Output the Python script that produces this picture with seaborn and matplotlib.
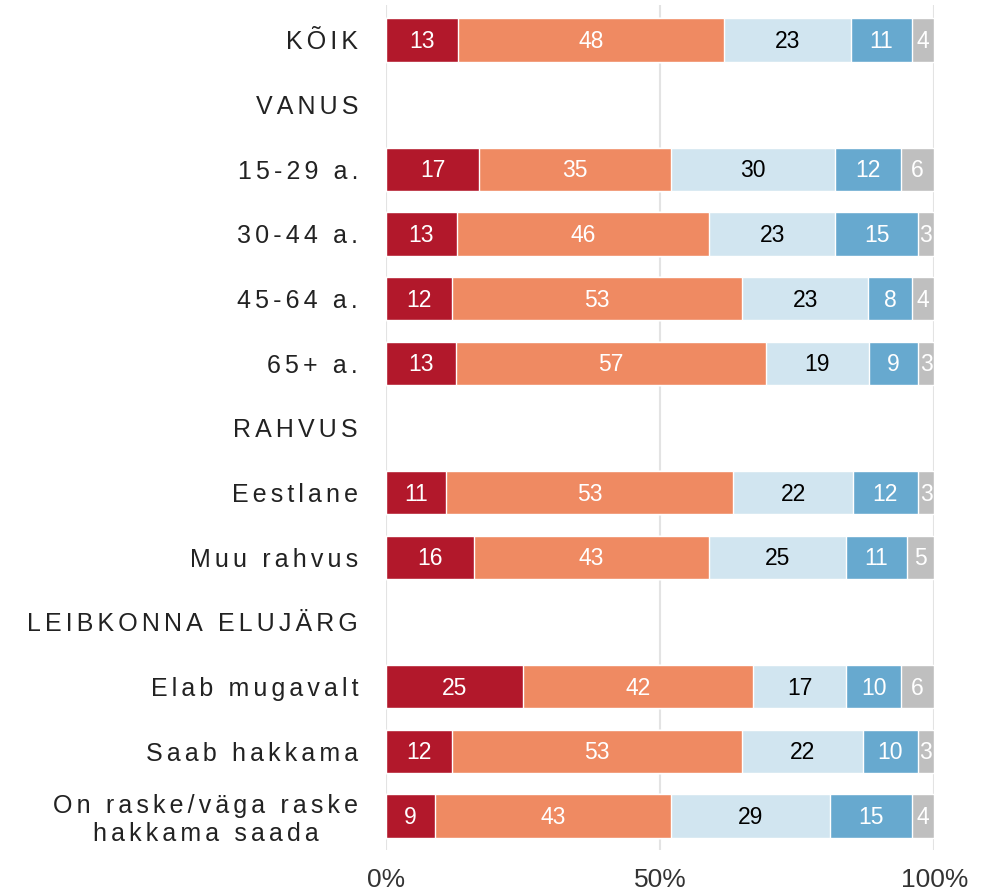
import numpy as np
import pandas as pd
import matplotlib
matplotlib.use("Agg")
import matplotlib.pyplot as plt
import seaborn as sns

# rows shown on the y axis (header rows have no bar)
row_order = [
    "KÕIK", "VANUS", "15-29 a.", "30-44 a.", "45-64 a.", "65+ a.",
    "RAHVUS", "Eestlane", "Muu rahvus", "LEIBKONNA ELUJÄRG",
    "Elab mugavalt", "Saab hakkama", "On raske/väga raske\nhakkama saada",
]
groups = [
    "KÕIK", "15-29 a.", "30-44 a.", "45-64 a.", "65+ a.",
    "Eestlane", "Muu rahvus",
    "Elab mugavalt", "Saab hakkama", "On raske/väga raske\nhakkama saada",
]

# answer shares, %
s1 = [13, 17, 13, 12, 13, 11, 16, 25, 12, 9]
s2 = [48, 35, 46, 53, 57, 53, 43, 42, 53, 43]
s3 = [23, 30, 23, 23, 19, 22, 25, 17, 22, 29]
s4 = [11, 12, 15, 8, 9, 12, 11, 10, 10, 15]
s5 = [4, 6, 3, 4, 3, 3, 5, 6, 3, 4]

colors = ["#B2182B", "#EF8A62", "#D1E5F0", "#67A9CF", "#BFBFBF"]
text_colors = ["white", "white", "black", "white", "white"]


def tracked(s):
    # wide letter spacing like the original labels
    return "\n".join("\u2006".join(line) for line in s.split("\n"))


sns.set_style("white")
plt.rcParams["font.family"] = ["Liberation Sans", "DejaVu Sans"]

vals = np.array([s1, s2, s3, s4, s5], dtype=float)
shares = vals / vals.sum(axis=0)  # bars fill to 100%
cum = shares.cumsum(axis=0)

fig = plt.figure(figsize=(9.97, 8.93), dpi=100)
ax = fig.add_axes([0.387, 0.048, 0.55, 0.9464])

# stacked bars: draw cumulative totals from longest to shortest
for i in range(4, -1, -1):
    df = pd.DataFrame({"grp": groups, "val": cum[i]})
    sns.barplot(data=df, x="val", y="grp", order=row_order, orient="h",
                color=colors[i], saturation=1, width=0.67, ax=ax, zorder=2)

# value labels
for i in range(5):
    mids = cum[i] - shares[i] / 2
    for g, m, v in zip(groups, mids, vals[i]):
        ax.annotate(f"{int(v)}", (m, row_order.index(g)), xytext=(0, -5.9),
                    textcoords="offset points", ha="center", va="baseline",
                    color=text_colors[i], fontsize=16.5, zorder=3)

ax.set_xlim(0, 1)
ax.set_ylim(12.53, -0.54)
ax.set_xticks([0, 0.5, 1])
ax.set_xticklabels(["0%", "50%", "100%"], fontsize=19, color="#333333")
ax.set_yticks(range(len(row_order)))
ax.set_yticklabels([tracked(r) for r in row_order])
ax.tick_params(axis="x", length=0, pad=13)
ax.tick_params(axis="y", length=0, pad=20, labelsize=18, labelcolor="#222222")
for lab in ax.get_yticklabels():
    lab.set_multialignment("center")
ax.set_xlabel("")
ax.set_ylabel("")
ax.grid(axis="x", color="#E3E3E3", linewidth=1.5, zorder=0)
ax.set_axisbelow(True)
sns.despine(ax=ax, left=True, bottom=True)

fig.savefig("out.png", dpi=100)
